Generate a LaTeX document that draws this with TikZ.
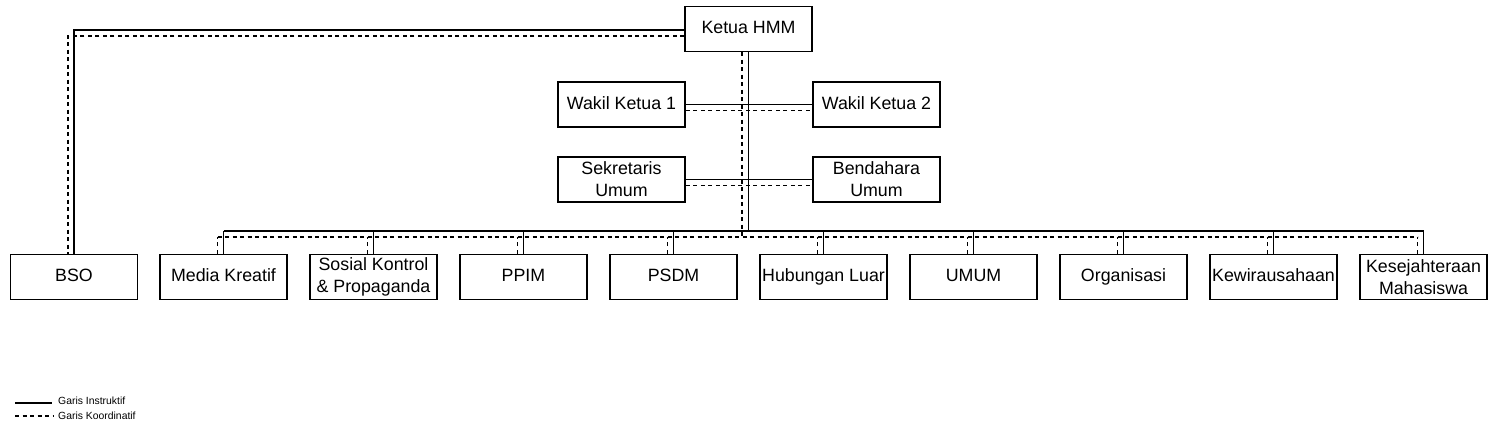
\documentclass[tikz,border=0pt]{standalone}
\usepackage{fontspec}
\setmainfont{Liberation Sans}
\begin{document}
\begin{tikzpicture}[x=1pt,y=-1pt,
  box/.style={draw,line width=1.5pt,rectangle,minimum width=127pt,minimum height=45pt,inner sep=0pt,align=center,font=\fontsize{17.8}{22}\selectfont},
  one/.style={text height=13pt,text depth=3.5pt},
  sline/.style={line width=1.5pt},
  dline/.style={line width=1.5pt,dash pattern=on 4pt off 3.5pt},
  legtext/.style={font=\fontsize{10.4}{12}\selectfont,anchor=west,inner sep=0pt}]
\useasboundingbox (0,0) rectangle (1498,427);
% nodes
\node[box,one] (ketua) at (748.5,29) {Ketua HMM};
\node[box,one] (wk1) at (621.5,104.5) {Wakil Ketua 1};
\node[box,one] (wk2) at (876.5,104.5) {Wakil Ketua 2};
\node[box] (sek) at (621.5,179.5) {Sekretaris\\Umum};
\node[box] (ben) at (876.5,179.5) {Bendahara\\Umum};
\node[box,one] (bso) at (74,277) {BSO};
\node[box,one] (media) at (223.5,277) {Media Kreatif};
\node[box] (sosial) at (373.5,277) {Sosial Kontrol\\\& Propaganda};
\node[box,one] (ppim) at (523.5,277) {PPIM};
\node[box,one] (psdm) at (673.5,277) {PSDM};
\node[box,one] (hublu) at (823.5,277) {Hubungan Luar};
\node[box,one] (umum) at (973.5,277) {UMUM};
\node[box,one] (org) at (1123.5,277) {Organisasi};
\node[box,one] (kwu) at (1273.5,277) {Kewirausahaan};
\node[box] (kesej) at (1423.5,277) {Kesejahteraan\\Mahasiswa};
\coordinate (busS) at (0,231);
\coordinate (busD) at (0,237);
% solid (instruktif)
\draw[sline] (ketua.south) -- (ketua.south |- busS);
\draw[sline] (media.north |- busS) -- (kesej.north |- busS);
\foreach \n in {media,sosial,ppim,psdm,hublu,umum,org,kwu,kesej}
  \draw[sline] (\n.north) -- (\n.north |- busS);
\draw[sline] (wk1.east) -- (wk2.west);
\draw[sline] (sek.east) -- (ben.west);
\draw[sline] ([yshift=-1pt]ketua.west) -| (bso.north);
% dashed (koordinatif)
\draw[dline] ([xshift=-6.5pt]ketua.south) -- ([xshift=-6.5pt]ketua.south |- busD);
\draw[dline] ([xshift=-6pt]media.north |- busD) -- ([xshift=-6pt]kesej.north |- busD);
\foreach \n in {media,sosial,ppim,psdm,hublu,umum,org,kwu,kesej}
  \draw[dline] ([xshift=-6pt]\n.north) -- ([xshift=-6pt]\n.north |- busD);
\draw[dline] ([yshift=-6pt]wk1.east) -- ([yshift=-6pt]wk2.west);
\draw[dline] ([yshift=-6pt]sek.east) -- ([yshift=-6pt]ben.west);
\draw[dline] ([yshift=-7pt]ketua.west) -| ([xshift=-6pt]bso.north);
% legend
\coordinate (l1a) at (15,403);
\coordinate (l1b) at (52,403);
\coordinate (l2a) at (15,416);
\coordinate (l2b) at (53,416);
\draw[line width=1.3pt] (l1a) -- (l1b);
\draw[line width=1.3pt,dash pattern=on 4pt off 3.5pt] (l2a) -- (l2b);
\node[legtext] (leg1) at (58,401) {Garis Instruktif};
\node[legtext] (leg2) at (58,416) {Garis Koordinatif};
\end{tikzpicture}
\end{document}
